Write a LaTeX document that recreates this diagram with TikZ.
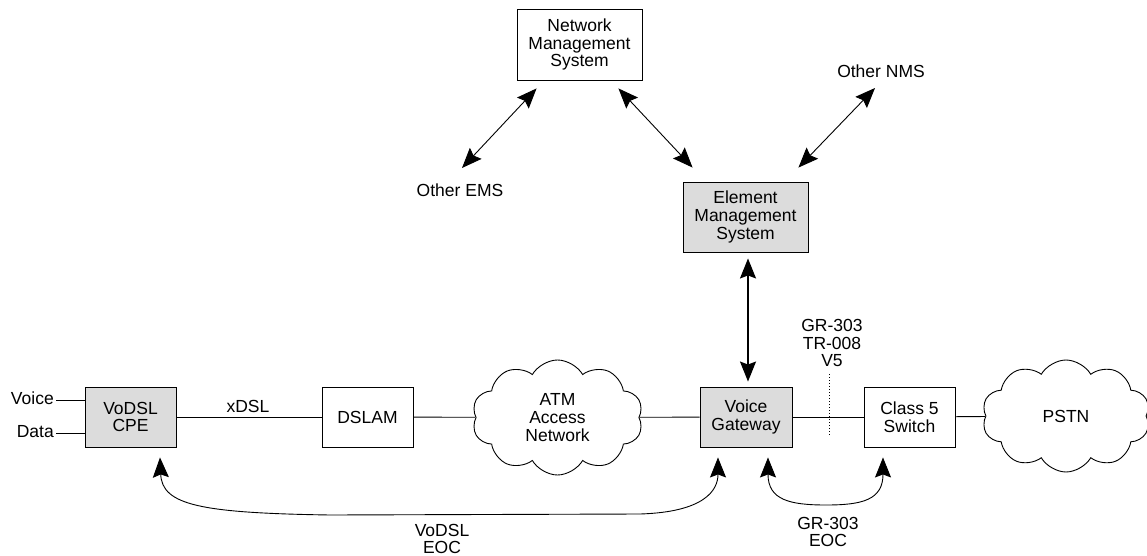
\documentclass[tikz,border=0pt]{standalone}
\usepackage{fontspec}
\setmainfont{Liberation Sans}
\usetikzlibrary{arrows.meta,shapes.symbols,calc}
\definecolor{boxgray}{RGB}{220,220,220}
\begin{document}
\begin{tikzpicture}[x=1pt,y=-1pt,
  every node/.style={font=\fontsize{17.5}{17.8}\selectfont, align=center, inner sep=0pt},
  box/.style={draw, line width=0.9pt, minimum width=91pt, minimum height=60pt},
  graybox/.style={box, fill=boxgray},
  cloudnode/.style={cloud, draw, line width=0.9pt, cloud puffs=10, cloud puff arc=120, aspect=1.5},
  conn/.style={line width=0.9pt},
  tipA/.tip={Stealth[length=20pt,width=16pt,inset=3pt]},
  biarr/.style={line width=0.9pt, tipA-tipA},
  dotline/.style={line width=0.9pt, dash pattern=on 0.9pt off 2.1pt},
]
\useasboundingbox (0,0) rectangle (1147,556);

% boxes
\node[graybox] (cpe) at (130.5,417) {VoDSL\\CPE};
\node[box] (dslam) at (367.5,417) {DSLAM};
\node[graybox, minimum width=92pt] (vg) at (746,417) {Voice\\Gateway};
\node[box] (c5) at (909.5,417) {Class 5\\Switch};
\node[box, minimum width=125pt, minimum height=71pt] (nms) at (579.5,44.5) {Network\\Management\\System};
\node[graybox, minimum width=125pt, minimum height=70pt] (ems) at (745.5,217) {Element\\Management\\System};

% clouds
\node[cloudnode, minimum width=171pt, minimum height=115pt] (atm) at (557.5,417.5) {ATM\\Access\\Network};
\node[cloudnode, minimum width=168pt, minimum height=112pt] (pstn) at (1066,416) {PSTN};

% labels
\node[anchor=east] (voice) at (54,398) {Voice};
\node[anchor=east] (data) at (54,432) {Data};
\node (xdsl) at (248,406) {xDSL};
\node (oems) at (460,190) {Other EMS};
\node (onms) at (881,71) {Other NMS};
\node (gr) at (832,343) {GR-303\\TR-008\\V5};
\node (vodsleoc) at (442,539) {VoDSL\\EOC};
\node (greoc) at (828,532) {GR-303\\EOC};

% lines
\draw[conn] ($(voice.east)+(2,2)$) -- ($(voice.east -| cpe.west)+(0,2)$);
\draw[conn] ($(data.east)+(2,1)$) -- ($(data.east -| cpe.west)+(0,1)$);
\draw[conn] (cpe) -- (dslam);
\draw[conn] (dslam) -- (atm);
\draw[conn] (atm) -- (vg);
\draw[conn] (vg) -- (c5);
\draw[conn] (c5) -- (pstn);

\coordinate (d1) at (829,374);
\coordinate (d2) at (829,435);
\draw[dotline] (d1) -- (d2);

% management arrows
\draw[biarr] ($(nms.south west)+(20,8)$) -- ($(oems)+(2,-22)$);
\draw[biarr] ($(nms.south east)+(-24,8)$) -- ($(ems.north west)+(10,-14)$);
\draw[biarr] ($(onms)+(-6,17)$) -- ($(ems.north east)+(-10,-14)$);
\draw[biarr, line width=1.6pt] ($(ems.south)+(2.5,6)$) -- ($(vg.north)+(2,-5)$);

% EOC curves
\draw[biarr] ($(cpe.south)+(29.5,10)$) .. controls (162,505) and (200,513) .. (330,515)
   -- (640,514) .. controls (705,512) and (718,490) .. ($(vg.south)+(-28,10)$);
\draw[biarr] ($(vg.south)+(22,10)$) .. controls (768,500) and (790,505) .. (826,505)
   .. controls (862,505) and (883,500) .. ($(c5.south)+(-26.5,10)$);
\end{tikzpicture}
\end{document}
